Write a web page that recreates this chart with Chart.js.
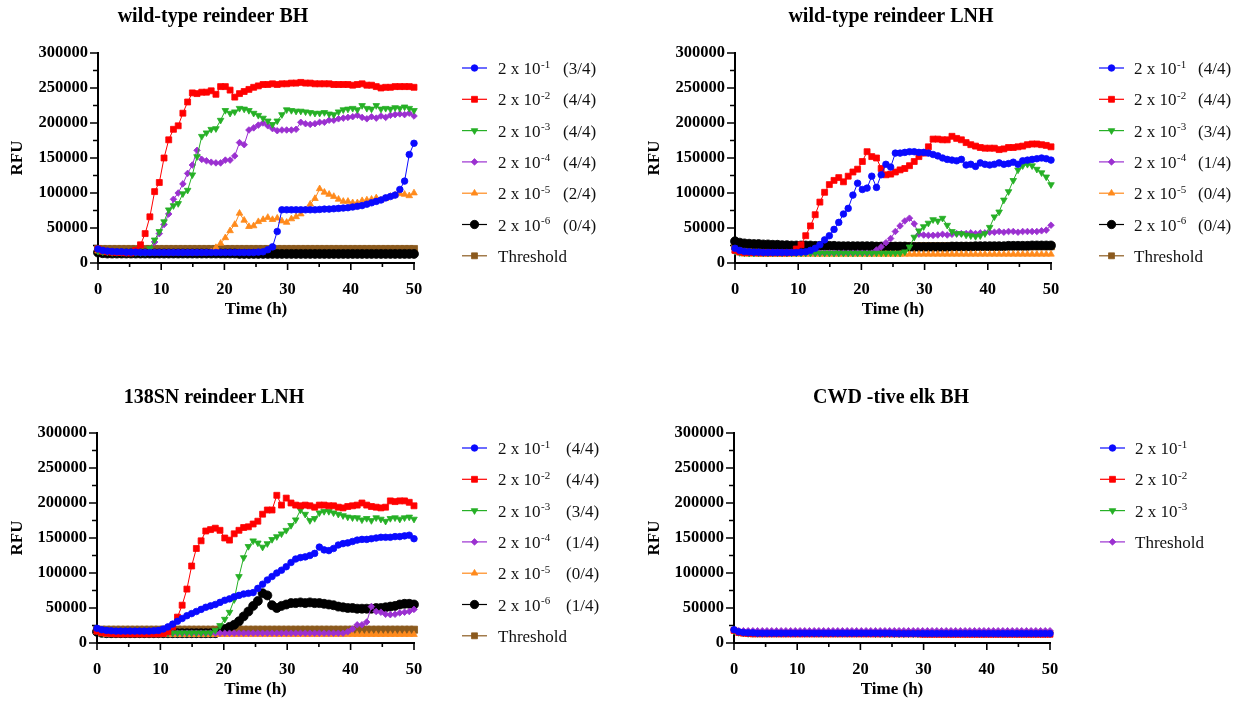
<!DOCTYPE html>
<html><head><meta charset="utf-8">
<script src="https://cdn.jsdelivr.net/npm/chart.js@4.4.1/dist/chart.umd.min.js"></script>
<style>
html,body{margin:0;padding:0;background:#fff;}
body{width:1243px;height:702px;position:relative;overflow:hidden;}
canvas{position:absolute;}
</style></head><body>
<canvas id="c1" width="621" height="351" style="left:0;top:0"></canvas>
<canvas id="c2" width="622" height="351" style="left:621px;top:0"></canvas>
<canvas id="c3" width="621" height="351" style="left:0;top:351px"></canvas>
<canvas id="c4" width="622" height="351" style="left:621px;top:351px"></canvas>
<script>
// ---------- time points (h) ----------
const times = [
0, 0.75, 1.49, 2.24, 2.99, 3.73, 4.48, 5.22, 5.97, 6.72,
7.46, 8.21, 8.96, 9.70, 10.45, 11.19, 11.94, 12.69, 13.43, 14.18,
14.93, 15.67, 16.42, 17.16, 17.91, 18.66, 19.40, 20.15, 20.90, 21.64,
22.39, 23.13, 23.88, 24.63, 25.37, 26.12, 26.87, 27.61, 28.36, 29.10,
29.85, 30.60, 31.34, 32.09, 32.84, 33.58, 34.33, 35.07, 35.82, 36.57,
37.31, 38.06, 38.81, 39.55, 40.30, 41.04, 41.79, 42.54, 43.28, 44.03,
44.78, 45.52, 46.27, 47.01, 47.76, 48.51, 49.25, 50.00];

// ---------- values, in thousands of RFU ----------
// Panel 1: wild-type reindeer BH
const wtBH_1 = [
20,18,17,16.5,16,16,15.5,15.5,15.5,15,
15,15,15,15,15,15,15,15,15,15,
15,15,15,15,15,15,15,15,15,15,
15,15,15,15,15.5,16,19,23,45,76,
76,76,76,76,76,76,76,76.5,77,77,
77.5,78,78.5,79,80,81,82,84,86,88,
90,93,95,97,105,117,155,171];
const wtBH_2 = [
20,17.5,16,15.5,15,15,14.5,14.5,18,26,
42,66,102,115,150,176,191,196,214,230,
243,242,244,244,246,241,252,252,247,237,
242,245,248,251,253,255,255,256,255,256,
256,257,257,258,257,257,256,256,256,256,
255,255,255,255,254,255,256,254,254,252,
250,251,251,252,252,252,252,251];
const wtBH_3 = [
17,16,15.5,15,15,15,15,15,15,15,
15,21,33,45,59,76,82,85,99,104,
126,152,181,186,191,192,204,218,214,216,
221,220,218,214,211,207,203,198,203,212,
219,218,217,217,216,215,214,214,215,213,
212,216,219,220,221,219,225,221,220,225,
220,221,220,222,221,223,221,218];
const wtBH_4 = [
18,16,15.5,15,15,15,15,15,15,15,
15,15,30,42,55,70,91,100,113,128,
140,161,148,146,144,143,143,147,147,153,
172,169,190,193,197,200,196,192,189,190,
190,190,191,201,199,198,199,201,201,204,
204,206,207,208,209,211,208,206,209,207,
210,208,211,212,213,212,214,210];
const wtBH_5 = [
17,15.5,15,15,14.5,14.5,14.5,14.5,14.5,14.5,
14.5,14.5,14.5,14.5,14.5,14.5,14.5,14.5,14.5,14.5,
14.5,14.5,14.5,14.5,16,22,28,36,46,55,
71,61,52,53,59,62,65,62,64,60,
58,63,66,70,76,84,92,106,101,98,
95,91,88,88,86,86,89,90,91,93,
90,92,95,97,99,98,96,100];
const wtBH_6 = [
15,14,13.5,13.5,13.5,13.5,13.5,13.5,13.5,13.5,
13.5,13.5,13.5,13.5,13.5,13.5,13.5,13.5,13.5,13.5,
13.5,13.5,13.5,13.5,13.5,13.5,13.5,13.5,13.5,13.5,
13,13,13,13,13,13,13,13,13,13,
13,13,13,13,13,13,13,13,13,13,
13,13,13,13,13,13,13,13,13,13,
13,13,13,13,13,13,13,13];
const wtBH_thr = [
20,20,20,20,20,20,20,20,20,20,
20,20,20,20,20,20,20,20,20,20,
20,20,20,20,20,20,20,20,20,20,
20,20,20,20,20,20,20,20,20,20,
20,20,20,20,20,20,20,20,20,20,
20,20,20,20,20,20,20,20,20,20,
20,20,20,20,20,20,20,20];

// Panel 2: wild-type reindeer LNH
const wtLNH_1 = [
21,18,16.5,16,15.5,15.5,15,15,15,15,
15,15,15,15,15.5,16,18,21,26,33,
39,48,58,70,78,97,114,105,107,124,
108,126,141,137,157,157,158,159,159,158,
158,157,155,153,150,148,147,146,148,140,
141,138,143,141,140,141,143,141,142,144,
141,146,147,148,149,150,149,147];
const wtLNH_2 = [
18,16,15,15,15,14.5,14.5,14.5,14.5,14.5,
14.5,14.5,15,20,26,39,53,69,87,101,
112,118,122,116,124,130,134,145,159,152,
150,135,126,127,130,133,135,139,145,152,
157,166,177,177,176,176,181,178,176,172,
169,167,165,164,164,164,162,163,165,165,
166,167,169,170,170,169,168,166];
const wtLNH_3 = [
17,15,14.5,14,14,14,14,14,14,14,
14,14,14,14,14,14,14,14,14,14,
14,14,14,14,14,14,14,14,14,14,
14,14,14,14,14,14,16,23,37,46,
52,57,62,60,64,54,45,42,42,40,
39,38,39,42,51,66,73,90,102,118,
133,139,141,139,134,129,123,112];
const wtLNH_4 = [
16,14.5,14,14,14,14,14,14,14,14,
14,14,14,14,14,14,14,14,14,14,
14,14,14,14,14,14,14,14,14,14,
18.6,23,29,35,45,53,60,64,56,41,
40,39.5,39.5,40,41,40,41,42,42,42,
43,42,43,43,44,44,45,44,45,45,
44,45,45,45,45,46,47,54];
const wtLNH_5 = [
17,14,12.5,12.5,12.5,12.5,12.5,12.5,12.5,12.5,
12.5,12.5,12.5,12.5,12.5,12.5,12.5,12.5,12.5,12.5,
12.5,12.5,12.5,12.5,12.5,12.5,12.5,12.5,12.5,12.5,
12.5,12.5,12.5,12.5,12.5,12.5,12.5,12.5,12.5,12.5,
12.5,12.5,12.5,12.5,12.5,12.5,12.5,12.5,12.5,12.5,
12.5,12.5,12.5,12.5,12.5,12.5,12.5,12.5,12.5,12.5,
12.5,12.5,12.5,12.5,12.5,12.5,12.5,12.5];
const wtLNH_6 = [
31,29,28,27.5,27,27,26.5,26.5,26,26,
25.5,25.5,25,25,25,25,25,24.5,24.5,24.5,
24.5,24.5,24,24,24,24,24,24,24,24,
23.5,23.5,23.5,23.5,23.5,23.5,23.5,23,23,23,
23,23,23,23,23,23,23.5,23.5,23.5,23.5,
23.5,24,24,24,24,24,24,24,24.5,24.5,
24.5,24.5,24.5,25,25,25,25,25];
const wtLNH_thr = [
24,24,24,24,24,24,24,24,24,24,
24,24,24,24,24,24,24,24,24,24,
24,24,24,24,24,24,24,24,24,24,
24,24,24,24,24,24,24,24,24,24,
24,24,24,24,24,24,24,24,24,24,
24,24,24,24,24,24,24,24,24,24,
24,24,24,24,24,24,24,24];

// Panel 3: 138SN reindeer LNH
const snLNH_1 = [
21,19,18,17.5,17,17,17,17,17,17,
17,17,17.5,18,20,23,27,31,35,39,
42,45,48,51,53,55,58,61,63,66,
68,70,71,72,78,84,90,95,100,104,
109,115,120,122,123,125,128,137,133,132,
135,140,142,143,145,147,148,148,149,150,
151,151,151,152,152,153,154,149];
const snLNH_2 = [
17,15,14,13.5,13,13,13,13,13,13,
13,13,13,13,13.5,16,23,37,54,77,
110,135,146,160,162,164,161,150,147,156,
161,165,166,170,174,184,190,190,211,197,
207,200,197,196,197,196,194,197,197,196,
196,194,193,195,196,197,200,197,195,194,
193,194,203,202,203,203,201,196];
const snLNH_3 = [
18,16,15,14.5,14.5,14.5,14.5,14.5,14.5,14.5,
14.5,14.5,14.5,14.5,14.5,14.5,14.5,14.5,14.5,14.5,
14.5,14.5,14.5,14.5,14.5,18,25,34,44,62,
95,122,138,146,143,137,142,148,152,156,
161,168,176,190,184,175,178,186,188,188,
186,184,182,180,179,179,176,178,175,179,
177,174,178,179,177,179,180,177];
const snLNH_4 = [
17,15,14,14,14,14,14,14,14,14,
14,14,14,14,14,14,14,14,14,14,
14,14,14,14,14,14,14,14,14,14,
14,14,14,14,14,14,14,14,14,14,
14,14,14,14,14,14,14,14,14,14,
14,14,14,16,20,26,26,30,52,45,
44,41,40.5,41,43,44,45,48];
const snLNH_5 = [
16,13,12,12,12,12,12,12,12,12,
12,12,12,12,12,12,12,12,12,12,
12,12,12,12,12,12,12,12,12,12,
12,12,12,12,12,12,12,12,12,12,
12,12,12,12,12,12,12,12,12,12,
12,12,12,12,12,12,12,12,12,12,
12,12,12,12,12,12,12,12];
const snLNH_6 = [
16,14.5,14,14,14,14,14,14,14,14,
14,14,14,14,14,14,14,14,14,14,
14,14,14,14,14,14,16,20,23,26,
31,38,45,53,60,71,68,54,50,53,
55,57,57,58,57,58,57,57,56,55,
54,52,51,50,50,49,49,49,49,50,
50,51,52,53,55,56,56,55];
const snLNH_thr = [
19,19,19,19,19,19,19,19,19,19,
19,19,19,19,19,19,19,19,19,19,
19,19,19,19,19,19,19,19,19,19,
19,19,19,19,19,19,19,19,19,19,
19,19,19,19,19,19,19,19,19,19,
19,19,19,19,19,19,19,19,19,19,
19,19,19,19,19,19,19,19];

// Panel 4: CWD -tive elk BH
const elkBH_1 = [
19,16,15,14.5,14.5,14,14,14,14,14,
14,14,14,14,14,14,14,14,14,14,
14,14,14,14,14,14,14,14,14,14,
14,14,14,14,13.5,13.5,13.5,13.5,13.5,13.5,
13.5,13.5,13.5,13.5,13.5,13.5,13.5,13.5,13.5,13.5,
13.5,13.5,13.5,13.5,13.5,13.5,13.5,13.5,13.5,13.5,
13.5,13.5,13.5,13.5,13.5,13.5,13.5,13.5];
const elkBH_2 = [
18,15,14,13.5,13,13,13,13,13,13,
13,13,13,13,13,13,13,13,13,13,
13,13,13,13,13,13,13,13,13,13,
13,13,13,13,13,13,13,13,13,13,
12.5,12.5,12.5,12.5,12.5,12.5,12.5,12.5,12.5,12.5,
12.5,12.5,12.5,12.5,12.5,12.5,12.5,12.5,12.5,12.5,
12.5,12.5,12.5,12.5,12.5,12.5,12.5,12.5];
const elkBH_3 = [
17,15,14,13.5,13.5,13.5,13.5,13.5,13.5,13.5,
13.5,13.5,13.5,13.5,13.5,13.5,13.5,13.5,13.5,13.5,
13.5,13.5,13.5,13.5,13.5,13.5,13.5,13.5,13.5,13.5,
13,13,13,13,13,13,13,13,13,13,
13,13,13,13,13,13,13,13,13,13,
13,13,13,13,13,13,13,13,13,13,
13,13,13,13,13,13,13,13];
const elkBH_thr = [
17.5,17.5,17.5,17.5,17.5,17.5,17.5,17.5,17.5,17.5,
17.5,17.5,17.5,17.5,17.5,17.5,17.5,17.5,17.5,17.5,
17.5,17.5,17.5,17.5,17.5,17.5,17.5,17.5,17.5,17.5,
17.5,17.5,17.5,17.5,17.5,17.5,17.5,17.5,17.5,17.5,
17.5,17.5,17.5,17.5,17.5,17.5,17.5,17.5,17.5,17.5,
17.5,17.5,17.5,17.5,17.5,17.5,17.5,17.5,17.5,17.5,
17.5,17.5,17.5,17.5,17.5,17.5,17.5,17.5];

// ---------- labels ----------
const panelTitles = ['wild-type reindeer BH', 'wild-type reindeer LNH', '138SN reindeer LNH', 'CWD -tive elk BH'];
const dilutionBase = '2 x 10';
const dilutionExp = ['-1', '-2', '-3', '-4', '-5', '-6'];
const posCounts1 = ['(3/4)', '(4/4)', '(4/4)', '(4/4)', '(2/4)', '(0/4)'];
const posCounts2 = ['(4/4)', '(4/4)', '(3/4)', '(1/4)', '(0/4)', '(0/4)'];
const posCounts3 = ['(4/4)', '(4/4)', '(3/4)', '(1/4)', '(0/4)', '(1/4)'];
const thresholdLabel = 'Threshold';
const xTitle = 'Time (h)';
const yTitle = 'RFU';
const xMajorTicks = [0, 10, 20, 30, 40, 50];
const xMinorTicks = [5, 15, 25, 35, 45];
const yMajorTicks = [0, 50000, 100000, 150000, 200000, 250000, 300000];
const yMinorTicks = [25000, 75000, 125000, 175000, 225000, 275000];

// ---------- styles ----------
const FONT = '"Liberation Serif", "Times New Roman", serif';
const ST = {
  d1: {color: '#0a0aff', pointStyle: 'circle', radius: 3.3, rotation: 0},
  d2: {color: '#ff0000', pointStyle: 'rect', radius: 4.2, rotation: 0},
  d3: {color: '#26b026', pointStyle: 'triangle', radius: 3.8, rotation: 180},
  d4: {color: '#9b30d0', pointStyle: 'rectRot', radius: 3.3, rotation: 0},
  d5: {color: '#ff8a1c', pointStyle: 'triangle', radius: 3.8, rotation: 0},
  d6: {color: '#000000', pointStyle: 'circle', radius: 4.5, rotation: 0},
  thr: {color: '#8b5a1e', pointStyle: 'rect', radius: 5, rotation: 0}
};

function makeDataset(values, st) {
  return {
    data: times.map((t, i) => ({x: t, y: values[i] * 1000})),
    borderColor: st.color, backgroundColor: st.color,
    borderWidth: 1, pointStyle: st.pointStyle, pointRadius: st.radius,
    pointRotation: st.rotation, pointBackgroundColor: st.color,
    pointBorderColor: st.color, pointBorderWidth: 0.8,
    pointHoverRadius: st.radius, tension: 0, clip: false, fill: false
  };
}

function drawLegend(ctx, lg) {
  lg.items.forEach((it, k) => {
    const yy = lg.y0 + k * lg.dy;
    const st = it.style;
    ctx.save();
    ctx.strokeStyle = st.color; ctx.lineWidth = 1.2;
    ctx.beginPath(); ctx.moveTo(lg.lineX, yy); ctx.lineTo(lg.lineX + 25, yy); ctx.stroke();
    ctx.fillStyle = st.color; ctx.lineWidth = 0.8;
    Chart.helpers.drawPoint(ctx, {pointStyle: st.pointStyle, radius: Math.min(st.radius, 4.2), rotation: st.rotation, borderWidth: 0.8}, lg.lineX + 12.5, yy);
    ctx.fillStyle = '#111'; ctx.textAlign = 'left'; ctx.textBaseline = 'alphabetic';
    ctx.font = '17px ' + FONT;
    ctx.fillText(it.main, lg.textX, yy + 6);
    if (it.sup) {
      const w = ctx.measureText(it.main).width;
      ctx.font = '11px ' + FONT;
      ctx.fillText(it.sup, lg.textX + w + 0.5, yy - 0.5);
    }
    if (it.count) {
      ctx.font = '17px ' + FONT;
      ctx.fillText(it.count, lg.countX, yy + 6);
    }
    ctx.restore();
  });
}

const decor = {
  id: 'decor',
  beforeDatasetsDraw(chart, args, o) {
    const {ctx, chartArea: a, scales: {x, y}} = chart;
    ctx.save();
    ctx.strokeStyle = '#000';
    ctx.lineWidth = 2;
    ctx.beginPath();
    ctx.moveTo(a.left, a.top - 1); ctx.lineTo(a.left, a.bottom + 1);
    ctx.moveTo(a.left - 1, a.bottom); ctx.lineTo(a.right + 1, a.bottom);
    ctx.stroke();
    ctx.lineWidth = 1.6;
    ctx.beginPath();
    yMajorTicks.forEach(v => { const p = y.getPixelForValue(v); ctx.moveTo(a.left - 8, p); ctx.lineTo(a.left, p); });
    yMinorTicks.forEach(v => { const p = y.getPixelForValue(v); ctx.moveTo(a.left - 5, p); ctx.lineTo(a.left, p); });
    xMajorTicks.forEach(v => { const p = x.getPixelForValue(v); ctx.moveTo(p, a.bottom); ctx.lineTo(p, a.bottom + 7); });
    xMinorTicks.forEach(v => { const p = x.getPixelForValue(v); ctx.moveTo(p, a.bottom); ctx.lineTo(p, a.bottom + 4); });
    ctx.stroke();
    ctx.restore();
  },
  afterDraw(chart, args, o) {
    const {ctx, chartArea: a} = chart;
    ctx.save();
    ctx.fillStyle = '#000';
    ctx.textAlign = 'center'; ctx.textBaseline = 'middle';
    ctx.font = 'bold 20px ' + FONT;
    ctx.fillText(o.title, o.titleX, o.titleY);
    ctx.font = 'bold 17px ' + FONT;
    ctx.fillText(xTitle, (a.left + a.right) / 2, o.xTitleY);
    ctx.save();
    ctx.translate(o.yTitleX, (a.top + a.bottom) / 2);
    ctx.rotate(-Math.PI / 2);
    ctx.fillText(yTitle, 0, 0);
    ctx.restore();
    ctx.restore();
    drawLegend(ctx, o.legend);
  }
};

function makeChart(id, datasets, pad, yW, xH, decorOpts) {
  return new Chart(document.getElementById(id), {
    type: 'line',
    data: {datasets},
    options: {
      responsive: false, animation: false, devicePixelRatio: 1,
      layout: {padding: pad},
      plugins: {legend: {display: false}, title: {display: false}, tooltip: {enabled: false}, decor: decorOpts},
      events: [],
      scales: {
        x: {
          type: 'linear', min: 0, max: 50,
          grid: {display: false}, border: {display: false},
          afterFit: s => { s.height = xH; },
          ticks: {stepSize: 10, autoSkip: false, maxRotation: 0, padding: 9, color: '#000',
                  font: {family: FONT, size: 16.5, weight: 'bold'}, callback: v => String(v)}
        },
        y: {
          min: 0, max: 300000,
          grid: {display: false}, border: {display: false},
          afterFit: s => { s.width = yW; },
          ticks: {stepSize: 50000, padding: 2, color: '#000',
                  font: {family: FONT, size: 16.5, weight: 'bold'}, callback: v => String(v)}
        }
      }
    },
    plugins: [decor]
  });
}

function legendItems(counts) {
  const styles = [ST.d1, ST.d2, ST.d3, ST.d4, ST.d5, ST.d6];
  return styles.map((s, i) => ({style: s, main: dilutionBase, sup: dilutionExp[i], count: counts ? counts[i] : null}));
}

// Panel 1
makeChart('c1',
  [makeDataset(wtBH_1, ST.d1), makeDataset(wtBH_2, ST.d2), makeDataset(wtBH_3, ST.d3), makeDataset(wtBH_4, ST.d4),
   makeDataset(wtBH_5, ST.d5), makeDataset(wtBH_6, ST.d6), makeDataset(wtBH_thr, ST.thr)],
  {left: 0, right: 207, top: 53, bottom: 28}, 98, 60,
  {title: panelTitles[0], titleX: 213, titleY: 17, xTitleY: 310, yTitleX: 18,
   legend: {lineX: 462, textX: 498, countX: 563, y0: 68, dy: 31.3,
            items: legendItems(posCounts1).concat([{style: ST.thr, main: thresholdLabel}])}});

// Panel 2
makeChart('c2',
  [makeDataset(wtLNH_1, ST.d1), makeDataset(wtLNH_2, ST.d2), makeDataset(wtLNH_3, ST.d3), makeDataset(wtLNH_4, ST.d4),
   makeDataset(wtLNH_5, ST.d5), makeDataset(wtLNH_6, ST.d6), makeDataset(wtLNH_thr, ST.thr)],
  {left: 16, right: 192, top: 53, bottom: 28}, 98, 60,
  {title: panelTitles[1], titleX: 270, titleY: 17, xTitleY: 310, yTitleX: 34,
   legend: {lineX: 478, textX: 513, countX: 577, y0: 68, dy: 31.3,
            items: legendItems(posCounts2).concat([{style: ST.thr, main: thresholdLabel}])}});

// Panel 3
makeChart('c3',
  [makeDataset(snLNH_1, ST.d1), makeDataset(snLNH_2, ST.d2), makeDataset(snLNH_3, ST.d3), makeDataset(snLNH_4, ST.d4),
   makeDataset(snLNH_5, ST.d5), makeDataset(snLNH_6, ST.d6), makeDataset(snLNH_thr, ST.thr)],
  {left: 0, right: 207, top: 82, bottom: 14}, 97, 45,
  {title: panelTitles[2], titleX: 214, titleY: 47, xTitleY: 339, yTitleX: 18,
   legend: {lineX: 462, textX: 498, countX: 566, y0: 97, dy: 31.3,
            items: legendItems(posCounts3).concat([{style: ST.thr, main: thresholdLabel}])}});

// Panel 4
makeChart('c4',
  [makeDataset(elkBH_1, ST.d1), makeDataset(elkBH_2, ST.d2), makeDataset(elkBH_3, ST.d3), makeDataset(elkBH_thr, ST.d4)],
  {left: 15, right: 193, top: 82, bottom: 14}, 98, 45,
  {title: panelTitles[3], titleX: 270, titleY: 47, xTitleY: 339, yTitleX: 34,
   legend: {lineX: 479, textX: 514, countX: 0, y0: 97, dy: 31.3,
            items: legendItems(null).slice(0, 3).concat([{style: ST.d4, main: thresholdLabel}])}});
</script>
</body></html>
